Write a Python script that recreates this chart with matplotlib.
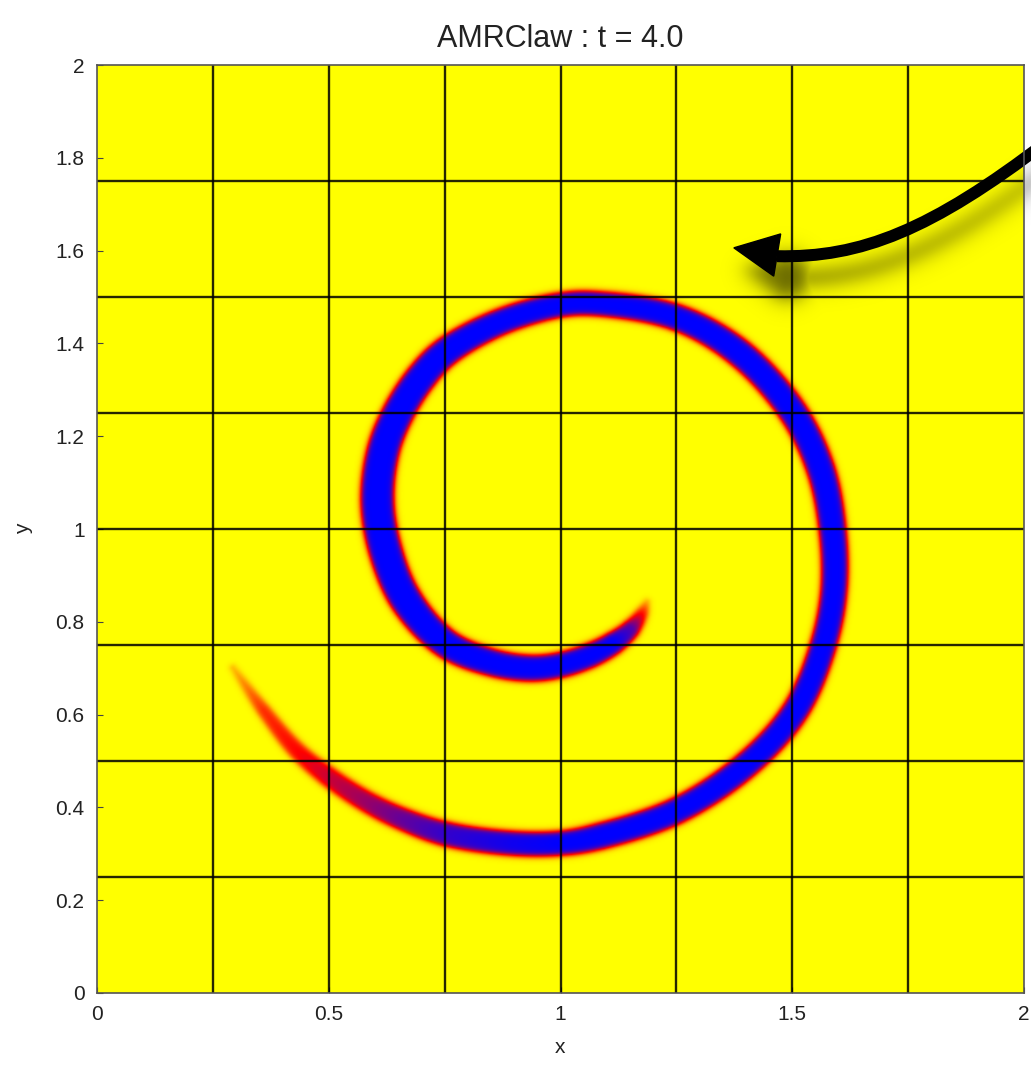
import numpy as np
import matplotlib
matplotlib.use('Agg')
import matplotlib.pyplot as plt
from matplotlib.colors import LinearSegmentedColormap
from matplotlib.path import Path
from matplotlib.patches import PathPatch, Polygon

plt.rcParams['font.family'] = ['Liberation Sans', 'DejaVu Sans']

# centre line of the spiral band as read from the frame, inner tip -> outer tail
spiral_x = [1.186, 1.175, 1.151, 1.114, 1.065, 1.000, 0.935, 0.849, 0.752, 0.667,
            0.622, 0.605, 0.618, 0.650, 0.698, 0.752, 0.870, 1.002, 1.086, 1.253,
            1.389, 1.503, 1.562, 1.587, 1.590, 1.566, 1.508, 1.406, 1.253, 1.086,
            1.002, 0.892, 0.752, 0.654, 0.579, 0.497, 0.430, 0.359, 0.294]
spiral_y = [0.841, 0.817, 0.784, 0.754, 0.728, 0.707, 0.700, 0.713, 0.754, 0.847,
            0.955, 1.063, 1.170, 1.250, 1.325, 1.381, 1.446, 1.483, 1.485, 1.455,
            1.377, 1.250, 1.127, 0.998, 0.869, 0.746, 0.610, 0.496, 0.394, 0.338,
            0.323, 0.323, 0.343, 0.377, 0.414, 0.468, 0.524, 0.610, 0.700]
# half width of the band and peak value of q along it
spiral_hw = [0.0065, 0.013, 0.0194, 0.0238, 0.026, 0.027, 0.028, 0.029, 0.031, 0.0345,
             0.0356, 0.0356, 0.0345, 0.0335, 0.0324, 0.031, 0.028, 0.026, 0.026, 0.028,
             0.030, 0.030, 0.030, 0.029, 0.028, 0.028, 0.028, 0.028, 0.028, 0.028,
             0.026, 0.026, 0.026, 0.024, 0.0227, 0.0216, 0.0184, 0.014, 0.0065]
spiral_amp = [0.2, 0.5, 0.85, 1.0, 1.0, 1.0, 1.0, 1.0, 1.0, 1.0,
              1.0, 1.0, 1.0, 1.0, 1.0, 1.0, 1.0, 1.0, 1.0, 1.0,
              1.0, 1.0, 1.0, 1.0, 1.0, 1.0, 1.0, 1.0, 1.0, 1.0,
              1.0, 0.97, 0.9, 0.8, 0.7, 0.6, 0.5, 0.42, 0.15]

patch_edges = [0.25, 0.5, 0.75, 1.0, 1.25, 1.5, 1.75]
xticks = [0, 0.5, 1, 1.5, 2]
xticklabels = ['0', '0.5', '1', '1.5', '2']
yticks = [0, 0.2, 0.4, 0.6, 0.8, 1.0, 1.2, 1.4, 1.6, 1.8, 2.0]
yticklabels = ['0', '0.2', '0.4', '0.6', '0.8', '1', '1.2', '1.4', '1.6', '1.8', '2']


def smooth_line(px, py, vals, m=10):
    # centripetal catmull-rom through the read points so the band has no corners
    P = np.column_stack([px, py])
    Pp = np.vstack([2 * P[0] - P[1], P, 2 * P[-1] - P[-2]])
    V = np.column_stack(vals)
    pts, vv = [], []
    for i in range(len(P) - 1):
        p0, p1, p2, p3 = Pp[i], Pp[i + 1], Pp[i + 2], Pp[i + 3]
        t0 = 0.0
        t1 = t0 + np.linalg.norm(p1 - p0) ** 0.5
        t2 = t1 + np.linalg.norm(p2 - p1) ** 0.5
        t3 = t2 + np.linalg.norm(p3 - p2) ** 0.5
        for k in range(m):
            u = k / m
            t = t1 + u * (t2 - t1)
            a1 = (t1 - t) / (t1 - t0) * p0 + (t - t0) / (t1 - t0) * p1
            a2 = (t2 - t) / (t2 - t1) * p1 + (t - t1) / (t2 - t1) * p2
            a3 = (t3 - t) / (t3 - t2) * p2 + (t - t2) / (t3 - t2) * p3
            b1 = (t2 - t) / (t2 - t0) * a1 + (t - t0) / (t2 - t0) * a2
            b2 = (t3 - t) / (t3 - t1) * a2 + (t - t1) / (t3 - t1) * a3
            pts.append((t2 - t) / (t2 - t1) * b1 + (t - t1) / (t2 - t1) * b2)
            vv.append(V[i] + u * (V[i + 1] - V[i]))
    pts.append(P[-1])
    vv.append(V[-1])
    return np.array(pts), np.array(vv)


# build q on a fine grid from the centre line
n = 800
cell = 2.0 / n
xc = (np.arange(n) + 0.5) * cell
q = np.zeros((n, n))
edge = 0.0075
pts, vv = smooth_line(spiral_x, spiral_y, [spiral_hw, spiral_amp])
for i in range(len(pts) - 1):
    x0, y0 = pts[i]
    dx, dy = pts[i + 1] - pts[i]
    lo_x = max(int((min(x0, x0 + dx) - 0.07) / cell), 0)
    hi_x = min(int((max(x0, x0 + dx) + 0.07) / cell) + 1, n)
    lo_y = max(int((min(y0, y0 + dy) - 0.07) / cell), 0)
    hi_y = min(int((max(y0, y0 + dy) + 0.07) / cell) + 1, n)
    X, Y = np.meshgrid(xc[lo_x:hi_x], xc[lo_y:hi_y])
    t = np.clip(((X - x0) * dx + (Y - y0) * dy) / (dx * dx + dy * dy + 1e-12), 0, 1)
    d = np.hypot(X - x0 - t * dx, Y - y0 - t * dy)
    hw = vv[i, 0] + t * (vv[i + 1, 0] - vv[i, 0])
    amp = vv[i, 1] + t * (vv[i + 1, 1] - vv[i, 1])
    qi = amp * 0.5 * (1 - np.tanh((d - hw) / edge))
    q[lo_y:hi_y, lo_x:hi_x] = np.maximum(q[lo_y:hi_y, lo_x:hi_x], qi)

cmap = LinearSegmentedColormap.from_list('yellow_red_blue', ['#ffff00', '#ff0000', '#0000ff'])

fig = plt.figure(figsize=(10.31, 10.66), dpi=100)
ax = fig.add_axes([0.0941, 0.0685, 0.8991, 0.8705])
ax.imshow(q, origin='lower', extent=[0, 2, 0, 2], cmap=cmap, vmin=0, vmax=1,
          interpolation='bilinear', aspect='auto', zorder=0)

# patch edges
ax.vlines(patch_edges, 0, 2, colors='k', linewidth=1.7, alpha=0.85, zorder=2)
ax.hlines(patch_edges, 0, 2, colors='k', linewidth=1.7, alpha=0.85, zorder=2)

# curved arrow with a soft drop shadow
verts = [(2.048, 1.834), (1.799, 1.644), (1.648, 1.584), (1.467, 1.588)]
codes = [Path.MOVETO, Path.CURVE4, Path.CURVE4, Path.CURVE4]
head = [(1.374, 1.606), (1.475, 1.636), (1.460, 1.545)]

tb = np.linspace(0, 1, 160)[:, None]
b = np.array(verts)
curve = ((1 - tb) ** 3 * b[0] + 3 * (1 - tb) ** 2 * tb * b[1]
         + 3 * (1 - tb) * tb ** 2 * b[2] + tb ** 3 * b[3])
base = np.array([(head[1][0] + head[2][0]) / 2, (head[1][1] + head[2][1]) / 2])
th = np.linspace(0, 1, 40)[:, None]
head_line = base + th * (np.array(head[0]) - base)
sh_pts = np.vstack([curve, head_line]) + np.array([0.022, -0.047])
sh_hw = np.concatenate([np.full(160, 0.014), 0.045 * (1 - th[:, 0])])
sh_amax = np.concatenate([0.42 + 0.22 * tb[:, 0], np.full(40, 0.6)])
sig = 0.022
ext = [1.25, 2.15, 1.3, 1.95]
gx = np.arange(ext[0], ext[1], 0.004)
gy = np.arange(ext[2], ext[3], 0.004)
GX, GY = np.meshgrid(gx, gy)
dd = np.hypot(GX[..., None] - sh_pts[:, 0], GY[..., None] - sh_pts[:, 1])
prof = 0.5 * (np.tanh(1.2 * (sh_hw - dd) / (sig * 1.414)) - np.tanh(1.2 * (-sh_hw - dd) / (sig * 1.414)))
alpha = np.max(prof * sh_amax, axis=2)
shadow = np.zeros(alpha.shape + (4,))
shadow[..., 3] = alpha
ax.imshow(shadow, origin='lower', extent=[gx[0], gx[-1], gy[0], gy[-1]],
          interpolation='bilinear', aspect='auto', zorder=4, clip_on=False)

ax.add_patch(PathPatch(Path(verts, codes), fill=False, lw=12 * 0.72, color='k',
                       capstyle='butt', clip_on=False, zorder=5))
ax.add_patch(Polygon(head, closed=True, fc='k', ec='k', lw=1, clip_on=False, zorder=5))

ax.set_xlim(0, 2)
ax.set_ylim(0, 2)
ax.set_xticks(xticks)
ax.set_xticklabels(xticklabels)
ax.set_yticks(yticks)
ax.set_yticklabels(yticklabels)
ax.tick_params(direction='in', length=4, color='#444444', labelsize=15,
               labelcolor='#222222', pad=9)
for s in ax.spines.values():
    s.set_color('#555555')
    s.set_linewidth(1.2)
    s.set_zorder(6)

ax.set_title('AMRClaw : t = 4.0', fontsize=22, color='#222222', pad=13)
ax.set_xlabel('x', fontsize=15, color='#222222', labelpad=10)
ax.set_ylabel('y', fontsize=15, color='#222222', labelpad=16)

fig.savefig('out.png', dpi=100)
